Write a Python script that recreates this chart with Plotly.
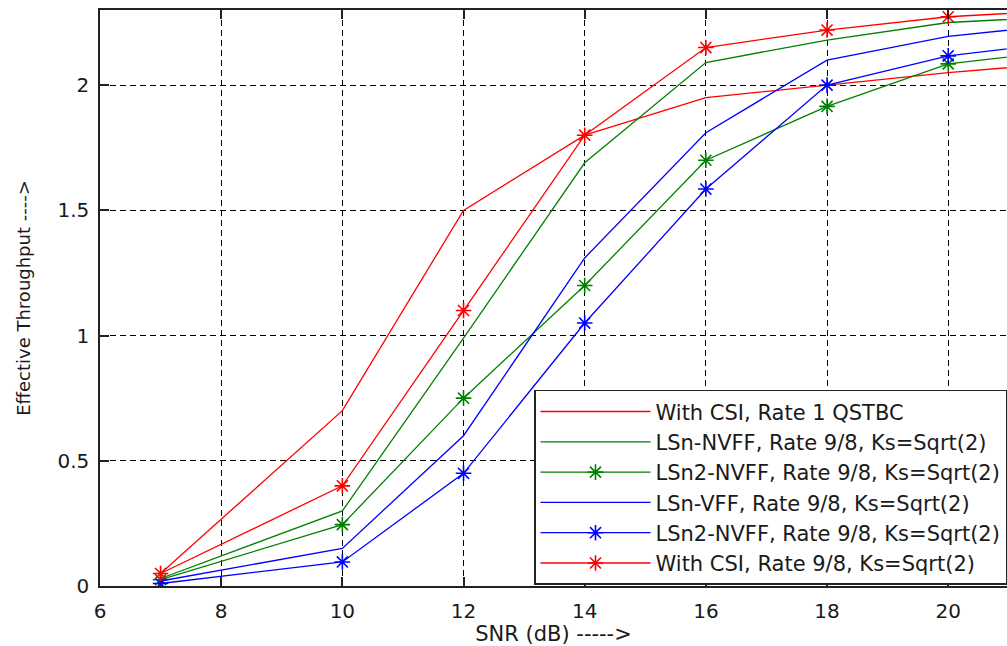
import plotly.graph_objects as go

snr = [7, 10, 12, 14, 16, 18, 20, 22]

csi_rate1 = [0.05, 0.70, 1.50, 1.80, 1.95, 2.00, 2.05, 2.09]
lsn_nvff = [0.03, 0.30, 0.99, 1.69, 2.09, 2.18, 2.25, 2.275]
lsn2_nvff_g = [0.025, 0.245, 0.75, 1.20, 1.70, 1.915, 2.085, 2.14]
lsn_vff = [0.02, 0.15, 0.60, 1.31, 1.81, 2.10, 2.195, 2.245]
lsn2_nvff_b = [0.01, 0.096, 0.45, 1.05, 1.585, 2.00, 2.117, 2.175]
csi_rate98 = [0.05, 0.40, 1.10, 1.80, 2.15, 2.22, 2.273, 2.30]

names = [
    "With CSI, Rate 1 QSTBC",
    "LSn-NVFF, Rate 9/8, Ks=Sqrt(2)",
    "LSn2-NVFF, Rate 9/8, Ks=Sqrt(2)",
    "LSn-VFF, Rate 9/8, Ks=Sqrt(2)",
    "LSn2-NVFF, Rate 9/8, Ks=Sqrt(2)",
    "With CSI, Rate 9/8, Ks=Sqrt(2)",
]
series = [csi_rate1, lsn_nvff, lsn2_nvff_g, lsn_vff, lsn2_nvff_b, csi_rate98]
colors = ["#ff0000", "#008000", "#008000", "#0000ff", "#0000ff", "#ff0000"]
has_marker = [False, False, True, False, True, True]

x_ticks = [6, 8, 10, 12, 14, 16, 18, 20]
y_ticks = [0, 0.5, 1, 1.5, 2]

fig = go.Figure()
for name, ys, c, m in zip(names, series, colors, has_marker):
    fig.add_trace(go.Scatter(
        x=snr, y=ys, name=name,
        mode="lines+markers" if m else "lines",
        line=dict(color=c, width=1.3),
        marker=dict(symbol="asterisk-open", size=13,
                    line=dict(color=c, width=1.6), color=c),
    ))

font_family = "DejaVu Sans"
grid = dict(showgrid=True, gridcolor="#000000", gridwidth=1.2, griddash="6px,4px")

fig.update_layout(
    width=1007, height=646,
    margin=dict(l=100, r=0, t=10, b=60, autoexpand=False),
    paper_bgcolor="white", plot_bgcolor="white",
    font=dict(family=font_family, color="#1a1a1a"),
    showlegend=True,
    legend=dict(
        x=1, xanchor="right", y=0.002, yanchor="bottom",
        bgcolor="white", bordercolor="#222222", borderwidth=1.5,
        font=dict(size=21, family=font_family, color="#1a1a1a"),
        itemwidth=110, tracegroupgap=0,
    ),
    xaxis=dict(
        range=[6, 20.97], tickvals=x_ticks, ticktext=[str(v) for v in x_ticks],
        ticks="inside", ticklen=9, tickcolor="#222222", tickwidth=1.5,
        showline=True, linecolor="#222222", linewidth=1.5, mirror="ticks",
        zeroline=False, tickfont=dict(size=20), ticklabelstandoff=6,
        automargin=False,
        title=dict(text="SNR (dB) ----->", font=dict(size=21), standoff=8),
        **grid,
    ),
    yaxis=dict(
        range=[0, 2.3], tickvals=y_ticks, ticktext=["0", "0.5", "1", "1.5", "2"],
        ticks="inside", ticklen=9, tickcolor="#222222", tickwidth=1.5,
        showline=True, linecolor="#222222", linewidth=1.5, mirror=False,
        zeroline=False, tickfont=dict(size=20), ticklabelstandoff=5,
        automargin=False,
        title=dict(text="Effective Throughput ---->", font=dict(size=18), standoff=22),
        **grid,
    ),
)

fig.write_html("out.html", config={"displayModeBar": False},
               post_script="document.body.style.margin='0px';")
